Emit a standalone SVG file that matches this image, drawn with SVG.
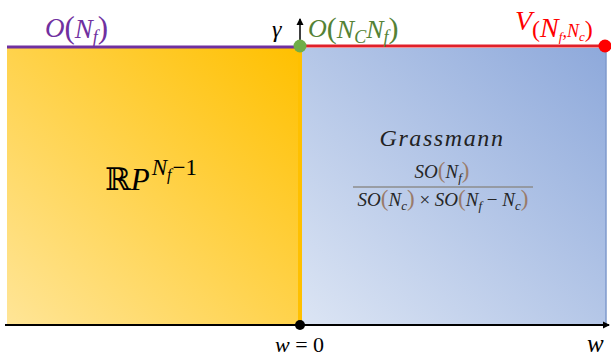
<svg xmlns="http://www.w3.org/2000/svg" width="611" height="358" viewBox="0 0 611 358">
<style>
.m{font-family:"Liberation Serif","DejaVu Serif",serif;font-style:italic}
.u{font-family:"Liberation Serif","DejaVu Serif",serif;font-style:normal}
</style>
<defs>
<linearGradient id="gy" x1="0" y1="1" x2="1" y2="0">
<stop offset="0" stop-color="#FFE597"/>
<stop offset="1" stop-color="#FFC000"/>
</linearGradient>
<linearGradient id="gb" x1="0" y1="1" x2="1" y2="0">
<stop offset="0" stop-color="#DCE5F4"/>
<stop offset="1" stop-color="#8EA9DB"/>
</linearGradient>
<marker id="ah" markerWidth="8" markerHeight="8" refX="6" refY="4" orient="auto" markerUnits="userSpaceOnUse">
<path d="M0,0.5 L7,4 L0,7.5 z" fill="#000"/>
</marker>
</defs>
<g id="region-rp">
<rect x="7" y="48" width="293" height="277" fill="url(#gy)"/>
<text class="m" x="105" y="190" font-size="31" fill="#000"><tspan class="u">ℝ</tspan>P<tspan font-size="23" dy="-15" dx="2">N</tspan><tspan font-size="16" dy="5">f</tspan><tspan class="u" font-size="23" dy="-5" dx="1">−1</tspan></text>
</g>
<g id="region-grassmann">
<rect x="300" y="48" width="306" height="277" fill="url(#gb)"/>
<line x1="606" y1="48" x2="606" y2="325" stroke="#7F9ACD" stroke-width="1.5"/>
<text class="m" x="442" y="146" font-size="24" fill="#222" text-anchor="middle" letter-spacing="1.6">Grassmann</text>
<text class="m" x="442" y="178" font-size="19" fill="#262626" text-anchor="middle">SO<tspan class="u" fill="#9A7B6A" font-size="23">(</tspan>N<tspan font-size="13" dy="4">f</tspan><tspan class="u" fill="#9A7B6A" font-size="23" dy="-4">)</tspan></text>
<line x1="353" y1="187" x2="533" y2="187" stroke="#8C8C8C" stroke-width="1.3"/>
<text class="m" x="443" y="206" font-size="19" fill="#262626" text-anchor="middle">SO<tspan class="u" fill="#9A7B6A" font-size="23">(</tspan>N<tspan font-size="13" dy="4">c</tspan><tspan class="u" fill="#9A7B6A" font-size="23" dy="-4">)</tspan><tspan class="u"> × </tspan>SO<tspan class="u" fill="#9A7B6A" font-size="23">(</tspan>N<tspan font-size="13" dy="4">f</tspan><tspan class="u" dy="-4"> − </tspan>N<tspan font-size="13" dy="4">c</tspan><tspan class="u" fill="#9A7B6A" font-size="23" dy="-4">)</tspan></text>
</g>
<g id="connectors">
<line x1="300" y1="48" x2="300" y2="325" stroke="#FFC000" stroke-width="4"/>
<line x1="7" y1="47" x2="300" y2="47" stroke="#7030A0" stroke-width="3"/>
<line x1="300" y1="46" x2="606" y2="46" stroke="#E0202A" stroke-width="3"/>
<line x1="300" y1="46" x2="300" y2="19" stroke="#000" stroke-width="1.5" marker-end="url(#ah)"/>
<line x1="5" y1="325" x2="609" y2="325" stroke="#000" stroke-width="2" marker-end="url(#ah)"/>
</g>
<g id="node-origin">
<circle cx="300" cy="325" r="5" fill="#000"/>
<text class="m" x="275" y="352" font-size="22" fill="#000">w <tspan class="u">= 0</tspan></text>
</g>
<g id="node-w">
<text class="m" x="587" y="352" font-size="25" fill="#000">w</text>
</g>
<g id="node-gamma">
<text class="m" x="272" y="37" font-size="24" fill="#000">γ</text>
</g>
<g id="node-onf">
<text class="m" x="45" y="37" font-size="27" fill="#7030A0">O<tspan class="u" font-size="31" dy="1">(</tspan>N<tspan font-size="18" dy="5">f</tspan><tspan class="u" font-size="31" dy="-5">)</tspan></text>
</g>
<g id="node-oncnf">
<circle cx="300" cy="46" r="6.5" fill="#70AD47"/>
<text class="m" x="308" y="37" font-size="26" fill="#548235">O<tspan class="u" font-size="30" dy="1">(</tspan>N<tspan font-size="18" dy="5">C</tspan><tspan dy="-5">N</tspan><tspan font-size="18" dy="5">f</tspan><tspan class="u" font-size="30" dy="-5">)</tspan></text>
</g>
<g id="node-v">
<circle cx="605" cy="46" r="6.5" fill="#FF0000"/>
<text class="m" x="515" y="30" font-size="28" fill="#FF0000">V<tspan class="u" font-size="24" dy="7">(</tspan>N<tspan font-size="13" dy="4">f</tspan><tspan font-size="18" dy="-4">,N</tspan><tspan font-size="13" dy="4">c</tspan><tspan class="u" font-size="24" dy="-4">)</tspan></text>
</g>
</svg>
